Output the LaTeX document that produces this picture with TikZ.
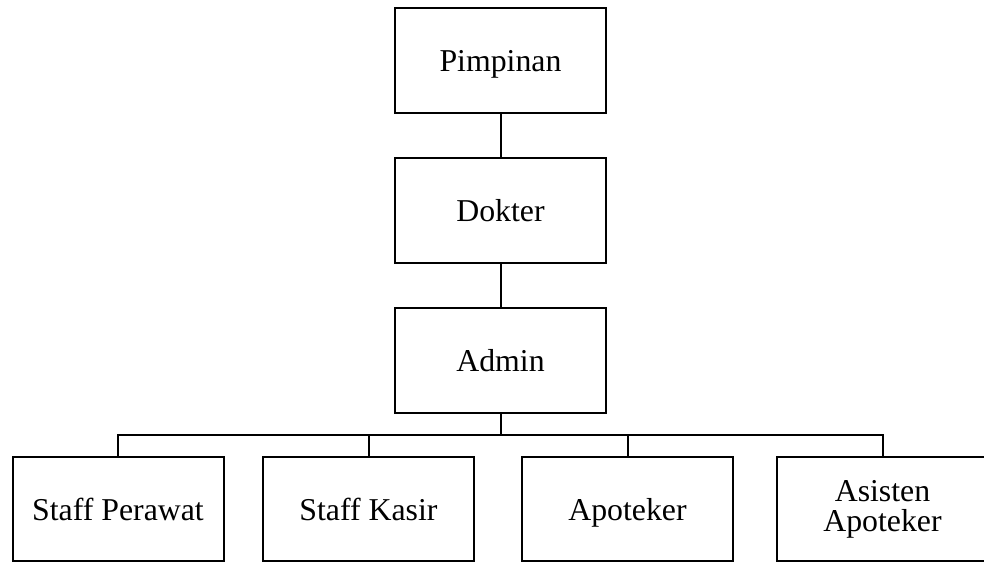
\documentclass[tikz,border=0pt]{standalone}
\usepackage{fontspec}
\setmainfont{Liberation Serif}

\tikzset{every picture/.style={line width=1.5pt}}
\tikzset{jabatan/.style={draw, line width=1.5pt, align=center, inner sep=0.75pt,
  minimum width=158.25pt, minimum height=78.75pt,
  font=\fontsize{23.85pt}{22.5pt}\selectfont},
  satubaris/.style={jabatan, text height=20pt, text depth=3.5pt},
  bawah/.style={minimum height=78pt}}

\begin{document}
\begin{tikzpicture}[x=0.75pt,y=0.75pt,yscale=-1,xscale=1]
\useasboundingbox (0,0) rectangle (984,563);

% Text Node
\node [satubaris] (pimpinan) at (500.5,60.5) {Pimpinan};
% Text Node
\node [satubaris] (dokter) at (500.5,210.5) {Dokter};
% Text Node
\node [satubaris] (admin) at (500.5,360.5) {Admin};
% Text Node
\node [satubaris, bawah] (perawat) at (118,509) {Staff Perawat};
% Text Node
\node [satubaris, bawah] (kasir) at (368.5,509) {Staff Kasir};
% Text Node
\node [satubaris, bawah] (apoteker) at (627.5,509) {Apoteker};
% Text Node
\node [jabatan, bawah] (asisten) at (882.5,509) {Asisten\\Apoteker};

\coordinate (bus) at (500.5,435);

%Straight Lines
\draw (pimpinan) -- (dokter);
%Straight Lines
\draw (dokter) -- (admin);
%Straight Lines
\draw (admin) -- (bus);
%Straight Lines
\draw (perawat.north) |- (bus) -| (asisten.north);
%Straight Lines
\draw (kasir.north) -- (kasir.north |- bus);
%Straight Lines
\draw (apoteker.north) -- (apoteker.north |- bus);

\end{tikzpicture}
\end{document}
